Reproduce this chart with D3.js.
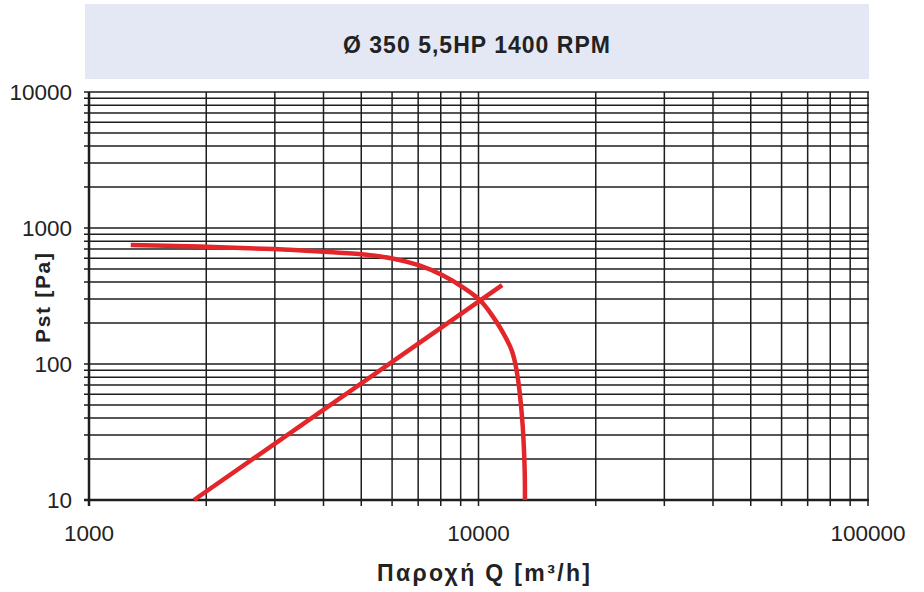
<!DOCTYPE html>
<html>
<head>
<meta charset="utf-8">
<script src="https://cdn.jsdelivr.net/npm/d3@7"></script>
<style>
  html, body { margin: 0; padding: 0; background: #fff; }
  svg { display: block; }
  text { font-family: "Liberation Sans", Arial, Helvetica, sans-serif; fill: #222; }
</style>
</head>
<body>
<svg id="chart" width="924" height="592"></svg>
<script>
// ---- Data ----
const chartTitle = "Ø 350 5,5HP 1400 RPM";
const xAxisTitle = "Παροχή Q  [m³/h]";
const yAxisTitle = "Pst [Pa]";

const xTickLabels = [1000, 10000, 100000];
const yTickLabels = [10, 100, 1000, 10000];

// Fan curve: flow Q (m3/h) and static pressure (Pa)
const fanQ = [1280, 2010, 3040, 4080, 5050, 6030, 7080, 8110, 9130, 10090, 10700, 11360, 11840, 12190, 12480, 12780, 13010, 13090, 13160, 13160];
const fanP = [750, 729, 701, 666, 644, 602, 535, 451, 368, 301, 241, 187, 150, 127, 98, 62, 34, 23, 15, 10];

// System curve (quadratic resistance)
const sysQ = [1860, 11500];
const sysP = [10, 380];

// ---- Layout ----
const svg = d3.select("#chart");
const plot = { left: 89, right: 868, top: 92, bottom: 500 };

const x = d3.scaleLog().domain([1000, 100000]).range([plot.left, plot.right]);
const y = d3.scaleLog().domain([10, 10000]).range([plot.bottom, plot.top]);

// Title band
svg.append("rect")
  .attr("x", 85).attr("y", 4).attr("width", 784).attr("height", 75)
  .attr("fill", "#e4e8f4");
svg.append("text")
  .attr("x", 476.5).attr("y", 53)
  .attr("text-anchor", "middle")
  .attr("font-size", 23).attr("font-weight", "bold")
  .attr("textLength", 267).attr("lengthAdjust", "spacing")
  .text(chartTitle);

// Grid values (all decade subdivisions)
function logGrid(lo, hi) {
  const out = [];
  for (let d = lo; d < hi; d *= 10) {
    for (let k = 1; k < 10; k++) out.push(d * k);
  }
  out.push(hi);
  return out;
}
const xGrid = logGrid(1000, 100000);
const yGrid = logGrid(10, 10000);

const grid = svg.append("g").attr("stroke", "#1e1e1e").attr("stroke-width", 1.5);
grid.selectAll("line.v").data(xGrid).enter().append("line")
  .attr("class", "v")
  .attr("x1", d => x(d)).attr("x2", d => x(d))
  .attr("y1", plot.top).attr("y2", plot.bottom + 6);
grid.selectAll("line.h").data(yGrid).enter().append("line")
  .attr("class", "h")
  .attr("y1", d => y(d)).attr("y2", d => y(d))
  .attr("x1", plot.left - 5).attr("x2", plot.right + 1);

// Axis lines (heavier)
svg.append("line")
  .attr("x1", plot.left).attr("x2", plot.left)
  .attr("y1", plot.top).attr("y2", plot.bottom + 6)
  .attr("stroke", "#1e1e1e").attr("stroke-width", 2.5);
svg.append("line")
  .attr("x1", plot.left - 5).attr("x2", plot.right + 1)
  .attr("y1", plot.bottom).attr("y2", plot.bottom)
  .attr("stroke", "#1e1e1e").attr("stroke-width", 2.5);

// Tick labels
svg.selectAll("text.xt").data(xTickLabels).enter().append("text")
  .attr("class", "xt")
  .attr("x", d => x(d)).attr("y", 541)
  .attr("text-anchor", "middle")
  .attr("font-size", 22.5)
  .text(d => d);
svg.selectAll("text.yt").data(yTickLabels).enter().append("text")
  .attr("class", "yt")
  .attr("x", 72).attr("y", d => y(d))
  .attr("dy", "0.36em")
  .attr("text-anchor", "end")
  .attr("font-size", 22.5)
  .text(d => d);

// Axis titles
svg.append("text")
  .attr("x", 483.5).attr("y", 581)
  .attr("text-anchor", "middle")
  .attr("font-size", 23).attr("font-weight", "bold")
  .attr("textLength", 213).attr("lengthAdjust", "spacing")
  .text(xAxisTitle);
svg.append("text")
  .attr("transform", "translate(50,298) rotate(-90)")
  .attr("text-anchor", "middle")
  .attr("font-size", 21).attr("font-weight", "bold")
  .attr("textLength", 90).attr("lengthAdjust", "spacing")
  .text(yAxisTitle);

// Curves
const red = "#e3262a";
const fanData = fanQ.map((q, i) => [q, fanP[i]]);
const sysData = sysQ.map((q, i) => [q, sysP[i]]);
const line = d3.line().x(d => x(d[0])).y(d => y(d[1])).curve(d3.curveBasis);

svg.append("path").datum(sysData)
  .attr("d", d3.line().x(d => x(d[0])).y(d => y(d[1])))
  .attr("fill", "none").attr("stroke", red).attr("stroke-width", 4.5);
svg.append("path").datum(fanData)
  .attr("d", line)
  .attr("fill", "none").attr("stroke", red).attr("stroke-width", 4.5)
  .attr("stroke-linecap", "butt");
</script>
</body>
</html>
